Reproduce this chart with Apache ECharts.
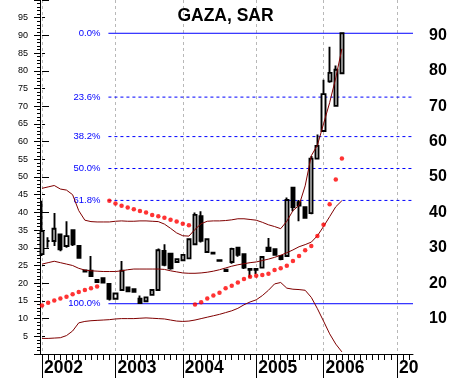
<!DOCTYPE html>
<html><head><meta charset="utf-8">
<script src="https://cdn.jsdelivr.net/npm/echarts@6/dist/echarts.min.js"></script>
<style>html,body{margin:0;padding:0;background:#fff}#c{width:451px;height:379px}</style>
</head><body><div id="c"></div>
<script>
const chartTitle = 'GAZA, SAR';
// x = bar number (one bar per traded month, Jan 2002 = 0)
const yearTicks  = [0, 12, 23, 35, 46, 58];
const yearLabels = ['2002', '2003', '2004', '2005', '2006', '2007'];

const opens  = [28.2,31.9,31.9,33.8,30.5,35.0,30.5,23.6,23.5,20.9,21.4,19.8,15.6,18.1,18.8,18.3,15.6,14.9,16.7,18.1,
                29.1,28.3,26.0,26.5,27.0,31.0,38.9,28.8,28.6,26.5,23.8,26.0,30.0,28.2,24.0,24.0,24.4,30.0,29.6,27.7,
                27.7,47.0,42.9,41.5,39.8,55.2,63.0,77.0,70.1,79.3];
const closes = [34.7,31.9,35.4,29.6,33.3,31.0,27.2,23.3,22.0,20.3,20.2,15.6,17.1,23.5,17.7,17.6,14.4,16.0,18.1,29.3,
                25.2,24.2,26.8,28.0,32.4,39.3,32.0,32.4,28.4,26.3,23.4,29.7,28.0,24.4,23.8,23.8,27.4,29.1,28.0,26.8,
                43.5,41.5,41.9,38.5,55.2,58.8,73.4,79.4,80.3,90.6];
const lows   = [27.7,30.0,30.5,29.0,30.0,30.5,27.0,23.2,21.8,20.2,20.1,15.1,15.5,18.0,17.6,17.5,14.2,14.8,16.5,18.0,
                24.8,23.8,26.0,26.3,26.9,30.8,31.5,28.6,28.3,26.2,23.2,25.5,27.5,24.0,21.6,22.6,24.2,28.9,27.9,26.5,
                27.4,40.3,37.5,38.3,39.5,55.0,62.8,76.6,70.0,79.0];
const highs  = [43.3,33.0,39.8,34.0,37.5,35.2,30.5,23.7,27.7,21.0,21.5,19.8,17.3,26.3,18.9,18.4,16.5,16.1,18.3,29.8,
                31.0,28.6,26.8,28.2,32.6,40.0,40.3,32.5,28.7,26.6,23.9,30.0,30.3,28.3,24.1,24.1,27.6,32.8,29.7,27.8,
                44.2,47.0,43.5,41.7,55.9,62.0,77.5,86.8,81.5,90.7];

const upperBand  = [46.8,47.2,47.6,46.6,46.3,45.0,40.5,37.8,37.4,37.3,37.3,37.3,37.5,37.6,37.5,37.5,37.6,37.6,37.5,37.4,
                    36.7,35.5,34.2,33.4,33.3,35.2,36.8,37.5,37.6,37.6,37.7,37.9,38.2,38.2,38.0,37.8,37.2,36.5,36.0,35.4,
                    37.5,40.5,42.0,47.5,56.0,59.0,65.0,71.0,78.0,86.2];
const middleBand = [25.4,25.8,26.2,25.8,25.4,25.0,24.2,23.7,23.5,23.4,23.3,23.3,23.3,23.5,23.8,24.0,24.0,24.0,24.0,24.0,
                    23.9,23.5,23.2,22.9,22.8,22.8,22.9,23.1,23.4,23.8,24.3,24.8,25.2,25.5,25.8,26.0,26.4,26.8,27.3,27.9,
                    28.6,29.4,30.3,30.9,31.6,33.4,36.0,38.8,41.6,43.3];
const lowerBand  = [4.4,4.4,4.5,4.6,5.2,6.5,8.8,9.2,9.4,9.5,9.6,9.7,9.9,10.0,10.0,10.0,10.1,10.2,10.1,10.0,
                    9.9,9.6,9.3,9.2,9.3,9.6,10.0,10.4,10.8,11.2,11.7,12.2,12.9,13.9,14.7,15.3,16.5,18.0,19.8,20.2,
                    18.6,18.3,18.2,18.0,16.0,12.8,9.3,5.7,2.8,0.6];
const sar = [13.7,14.5,15.1,15.7,16.2,16.9,17.5,18.1,18.6,19.1,null,43.3,42.5,41.9,41.4,40.9,40.4,40.0,39.3,38.9,
             38.5,37.9,37.4,36.8,36.4,14.0,14.6,15.7,16.5,17.3,18.6,19.3,20.2,21.2,21.8,22.1,22.3,22.7,23.7,24.2,
             24.9,26.3,27.7,29.3,30.5,33.3,36.5,42.3,49.3,55.2];

const fibHigh = 90.6, fibLow = 14.2, fibStartBar = 10.85;
const fibRatios = [0, 0.236, 0.382, 0.5, 0.618, 1];
const fibLabels = ['0.0%', '23.6%', '38.2%', '50.0%', '61.8%', '100.0%'];

const X_MIN = -0.33, X_MAX = 60.62;
const FONT = 'Liberation Sans, Arial, sans-serif';
const BLUE = '#0000ff';
const bars = opens.map((_, i) => i);
const minorBars = [];
for (let i = 0; i <= 60; i++) if (yearTicks.indexOf(i) < 0) minorBars.push(i);
const lastYear = yearTicks[yearTicks.length - 1];
const labelYears = yearTicks.slice(0, -1);

const fibSeries = fibRatios.map((r, k) => {
  const lv = fibHigh - r * (fibHigh - fibLow);
  const solid = (r === 0 || r === 1);
  return {
    type: 'line', name: 'fib' + k, z: 1, silent: true,
    symbol: 'circle', symbolSize: 0, showSymbol: true,
    lineStyle: { color: BLUE, width: 1, type: solid ? 'solid' : [3, 3] },
    itemStyle: { color: BLUE },
    data: [
      { value: [fibStartBar, lv],
        label: { show: true, position: 'left', distance: 8, formatter: fibLabels[k],
                 color: BLUE, fontSize: 9.5, fontFamily: FONT } },
      { value: [X_MAX, lv], label: { show: false } }
    ]
  };
});

const yearLabelStyle = { fontSize: 17.5, fontWeight: 'bold', color: '#000', fontFamily: FONT };

const chart = echarts.init(document.getElementById('c'), null, { renderer: 'canvas' });
chart.setOption({
  animation: false,
  backgroundColor: '#ffffff',
  title: { text: chartTitle, left: 'center', top: 2,
           textStyle: { fontSize: 17.5, fontWeight: 'bold', color: '#000', fontFamily: FONT } },
  grid: { left: 40, right: 38, top: -3.6, bottom: 25, containLabel: false },
  xAxis: [
    { type: 'value', min: X_MIN, max: X_MAX, position: 'bottom',
      axisLine: { show: true, onZero: false, lineStyle: { color: '#000', width: 1 } },
      axisTick: { show: true, customValues: yearTicks, length: 24, lineStyle: { color: '#000', width: 1 } },
      axisLabel: Object.assign({ show: true, customValues: labelYears, align: 'left', margin: 5, padding: [0, 0, 0, 2],
                   formatter: v => yearLabels[yearTicks.indexOf(Math.round(v))] || '' }, yearLabelStyle),
      splitLine: { show: true, lineStyle: { color: '#b8b8b8', width: 1, type: [3, 3] } } },
    { type: 'value', min: X_MIN, max: X_MAX, position: 'bottom',
      axisLine: { show: false },
      axisTick: { show: true, customValues: minorBars, length: 6, lineStyle: { color: '#000', width: 1 } },
      axisLabel: Object.assign({ show: true, customValues: [lastYear], align: 'left', margin: 5, padding: [0, 0, 0, 2],
                   width: 24, overflow: 'truncate', ellipsis: '',
                   formatter: v => yearLabels[yearTicks.indexOf(Math.round(v))] || '' }, yearLabelStyle),
      splitLine: { show: false } }
  ],
  yAxis: [
    { type: 'value', min: 0, max: 100, interval: 5, position: 'left',
      axisLine: { show: true, onZero: false, lineStyle: { color: '#000', width: 1 } },
      axisTick: { show: true, length: 6, lineStyle: { color: '#000' } },
      minorTick: { show: true, splitNumber: 5, length: 3, lineStyle: { color: '#000' } },
      axisLabel: { fontSize: 9, color: '#000', margin: 12, fontFamily: FONT,
                   formatter: v => (v === 0 || v === 100) ? '' : String(v) },
      splitLine: { show: false } },
    { type: 'value', min: 0, max: 100, interval: 10, position: 'right',
      axisLine: { show: false },
      axisTick: { show: true, length: 7, lineStyle: { color: '#000' } },
      minorTick: { show: true, splitNumber: 2, length: 3, lineStyle: { color: '#000' } },
      axisLabel: { fontSize: 16, fontWeight: 'bold', color: '#000', margin: 16, fontFamily: FONT,
                   formatter: v => (v === 0 || v === 100) ? '' : String(v) },
      splitLine: { show: false } }
  ],
  series: [
    { type: 'candlestick', xAxisIndex: 0, yAxisIndex: 0, z: 2,
      data: bars.map(i => [i, opens[i], closes[i], lows[i], highs[i]]),
      encode: { x: 0, y: [1, 2, 3, 4] },
      barWidth: 3.6,
      itemStyle: { color: '#ffffff', color0: '#000000', borderColor: '#000000', borderColor0: '#000000',
                   borderColorDoji: '#000000', borderWidth: 1.9 } },
    ...fibSeries,
    { type: 'line', name: 'upper', z: 3, showSymbol: false, silent: true,
      data: bars.map(i => [i, upperBand[i]]), lineStyle: { color: '#800000', width: 1 } },
    { type: 'line', name: 'middle', z: 3, showSymbol: false, silent: true,
      data: bars.map(i => [i, middleBand[i]]), lineStyle: { color: '#800000', width: 1 } },
    { type: 'line', name: 'lower', z: 3, showSymbol: false, silent: true,
      data: bars.map(i => [i, lowerBand[i]]), lineStyle: { color: '#800000', width: 1 } },
    { type: 'scatter', name: 'SAR', z: 4, silent: true, symbol: 'circle', symbolSize: 4.5,
      data: bars.filter(i => sar[i] !== null).map(i => [i, sar[i]]),
      itemStyle: { color: '#ff0000' } }
  ]
});
</script></body></html>
